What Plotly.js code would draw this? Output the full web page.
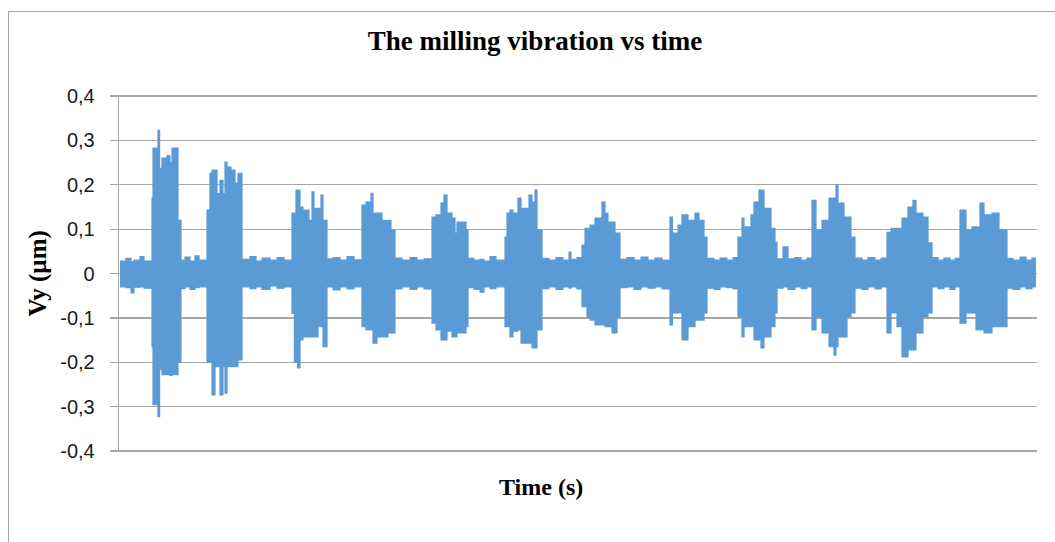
<!DOCTYPE html>
<html>
<head>
<meta charset="utf-8">
<script src="https://cdn.plot.ly/plotly-3.0.1.min.js"></script>
<style>
  html, body { margin: 0; padding: 0; overflow: hidden; background: #fff; }
  #wrap { position: relative; width: 1055px; height: 542px; }
  #chart { position: absolute; left: 0; top: 0; width: 1055px; height: 542px; }
  #frame { position: absolute; left: 8px; top: 11px; width: 2000px; height: 2000px;
           border: 1px solid #a6a6a6; pointer-events: none; }
</style>
</head>
<body>
<div id="wrap">
  <div id="chart"></div>
  <div id="frame"></div>
</div>
<script>
// Time (s) of each envelope knot
const time = [
  0, 0.3, 0.55, 0.7, 1.0, 1.2,
  1.6, 1.65, 1.9, 1.98, 2.1, 2.35, 2.5, 2.6, 2.9,
  3.05, 3.25, 3.5, 3.75, 3.95,
  4.35, 4.5, 4.6, 4.75, 4.85, 5.0, 5.15, 5.25, 5.35, 5.4, 5.55, 5.75, 5.9,
  6.1, 6.5, 6.8, 7.1, 7.5, 7.85, 8.2,
  8.6, 8.72, 8.8, 8.88, 9.0, 9.15, 9.45, 9.6, 9.7, 9.9, 10.05, 10.15,
  10.35, 10.65, 11.0, 11.35, 11.7,
  12.1, 12.3, 12.55, 12.65, 12.85, 13.1, 13.4, 13.55,
  13.75, 14.1, 14.5, 14.85, 15.2,
  15.6, 15.8, 16.05, 16.2, 16.35, 16.6, 16.75, 16.85, 17.3,
  17.4, 17.7, 18.0, 18.2, 18.5, 18.8,
  19.25, 19.35, 19.5, 19.65, 19.9, 20.05, 20.35, 20.45, 20.6, 20.75, 20.85,
  21.1, 21.45, 21.8, 22.15, 22.45, 22.55, 22.85,
  23.1, 23.25, 23.35, 23.5, 23.75, 24.1, 24.25, 24.4, 24.6, 24.75, 24.85,
  25.0, 25.35, 25.7, 26.05, 26.4, 26.75, 27.1,
  27.5, 27.62, 27.9, 28.1, 28.4, 28.75, 28.95, 29.2,
  29.35, 29.7, 30.0, 30.35, 30.65,
  30.9, 31.1, 31.2, 31.55, 31.7, 31.95, 32.05, 32.2, 32.55, 32.75,
  32.85, 33.15, 33.4, 33.75, 34.05, 34.35,
  34.6, 34.8, 35.1, 35.45, 35.7, 35.8, 35.9, 36.2, 36.35, 36.55,
  36.75, 37.1, 37.4, 37.75, 38.05,
  38.35, 38.55, 38.85, 39.1, 39.4, 39.65, 39.8, 40.15, 40.4,
  40.6, 40.9, 41.2, 41.5, 41.75,
  42.0, 42.3, 42.6, 42.8, 43.0, 43.2, 43.6, 43.95,
  44.35, 44.65, 45.0, 45.3, 45.6, 45.8
];
// Upper envelope of Vy (µm)
const vyMax = [
  0.028, 0.034, 0.026, 0.030, 0.038, 0.028,
  0.170, 0.283, 0.323, 0.237, 0.260, 0.266, 0.250, 0.283, 0.120,
  0.030, 0.037, 0.028, 0.040, 0.030,
  0.143, 0.226, 0.233, 0.233, 0.180, 0.210, 0.180, 0.251, 0.200, 0.240, 0.233, 0.204, 0.226,
  0.032, 0.038, 0.028, 0.035, 0.030, 0.036, 0.030,
  0.136, 0.136, 0.188, 0.188, 0.150, 0.143, 0.120, 0.184, 0.147, 0.147, 0.177, 0.120,
  0.033, 0.036, 0.030, 0.038, 0.031,
  0.154, 0.161, 0.181, 0.136, 0.136, 0.120, 0.120, 0.098,
  0.035, 0.030, 0.036, 0.030, 0.033,
  0.127, 0.132, 0.159, 0.177, 0.136, 0.125, 0.091, 0.116, 0.098,
  0.034, 0.030, 0.032, 0.028, 0.038, 0.030,
  0.082, 0.136, 0.143, 0.136, 0.170, 0.147, 0.147, 0.177, 0.161, 0.188, 0.098,
  0.034, 0.030, 0.036, 0.030, 0.048, 0.032, 0.036,
  0.064, 0.102, 0.102, 0.109, 0.125, 0.161, 0.136, 0.116, 0.116, 0.091, 0.091,
  0.032, 0.036, 0.030, 0.037, 0.030, 0.035, 0.030,
  0.127, 0.091, 0.109, 0.132, 0.120, 0.136, 0.120, 0.082,
  0.034, 0.030, 0.035, 0.030, 0.036,
  0.082, 0.125, 0.105, 0.132, 0.161, 0.188, 0.188, 0.147, 0.102, 0.070,
  0.033, 0.060, 0.033, 0.036, 0.030, 0.035,
  0.165, 0.098, 0.120, 0.170, 0.170, 0.200, 0.159, 0.127, 0.127, 0.082,
  0.035, 0.030, 0.036, 0.030, 0.035,
  0.093, 0.102, 0.102, 0.125, 0.150, 0.165, 0.136, 0.127, 0.069,
  0.036, 0.030, 0.035, 0.030, 0.034,
  0.143, 0.098, 0.105, 0.105, 0.159, 0.132, 0.136, 0.098,
  0.034, 0.030, 0.037, 0.030, 0.035, 0.035
];
// Lower envelope of Vy (µm)
const vyMin = [
  -0.030, -0.032, -0.044, -0.031, -0.030, -0.033,
  -0.165, -0.296, -0.323, -0.217, -0.228, -0.228, -0.230, -0.228, -0.200,
  -0.034, -0.030, -0.036, -0.032, -0.030,
  -0.200, -0.200, -0.274, -0.210, -0.210, -0.274, -0.210, -0.270, -0.210, -0.210, -0.210, -0.210, -0.195,
  -0.030, -0.034, -0.030, -0.036, -0.028, -0.033, -0.030,
  -0.090, -0.200, -0.200, -0.213, -0.150, -0.143, -0.143, -0.143, -0.143, -0.120, -0.120, -0.165,
  -0.030, -0.037, -0.030, -0.035, -0.030,
  -0.120, -0.127, -0.127, -0.157, -0.143, -0.143, -0.134, -0.134,
  -0.035, -0.030, -0.036, -0.030, -0.035,
  -0.112, -0.127, -0.150, -0.150, -0.130, -0.143, -0.143, -0.134, -0.120,
  -0.032, -0.036, -0.042, -0.030, -0.034, -0.030,
  -0.120, -0.120, -0.143, -0.130, -0.127, -0.157, -0.157, -0.157, -0.168, -0.168, -0.127,
  -0.034, -0.030, -0.036, -0.030, -0.033, -0.030, -0.035,
  -0.075, -0.075, -0.098, -0.105, -0.116, -0.116, -0.120, -0.120, -0.134, -0.134, -0.098,
  -0.032, -0.030, -0.036, -0.030, -0.033, -0.030, -0.035,
  -0.116, -0.089, -0.089, -0.150, -0.120, -0.105, -0.105, -0.089,
  -0.033, -0.036, -0.030, -0.032, -0.035,
  -0.098, -0.143, -0.120, -0.120, -0.150, -0.150, -0.168, -0.143, -0.120, -0.089,
  -0.033, -0.030, -0.036, -0.030, -0.034, -0.030,
  -0.127, -0.098, -0.134, -0.165, -0.184, -0.165, -0.143, -0.143, -0.098, -0.089,
  -0.033, -0.036, -0.030, -0.035, -0.030,
  -0.134, -0.089, -0.120, -0.188, -0.172, -0.172, -0.134, -0.098, -0.089,
  -0.030, -0.034, -0.030, -0.036, -0.030,
  -0.112, -0.089, -0.089, -0.127, -0.127, -0.134, -0.120, -0.120,
  -0.033, -0.036, -0.030, -0.034, -0.030, -0.030
];
const yTickVals = [-0.4, -0.3, -0.2, -0.1, 0, 0.1, 0.2, 0.3, 0.4];
const yTickText = ['-0,4', '-0,3', '-0,2', '-0,1', '0', '0,1', '0,2', '0,3', '0,4'];

const blue = '#5b9bd5';
const traces = [
  { x: time, y: vyMax, type: 'scatter', mode: 'lines',
    line: { color: blue, width: 1.2, shape: 'hv' }, hoverinfo: 'skip', showlegend: false },
  { x: time, y: vyMin, type: 'scatter', mode: 'lines', fill: 'tonexty', fillcolor: blue,
    line: { color: blue, width: 1.2, shape: 'hv' }, hoverinfo: 'skip', showlegend: false }
];

const serif = '"Liberation Serif", "Times New Roman", serif';
const layout = {
  width: 1055, height: 542,
  margin: { l: 119, r: 18, t: 95, b: 90 },
  paper_bgcolor: '#ffffff', plot_bgcolor: '#ffffff',
  showlegend: false,
  title: { text: '<b>The milling vibration vs time</b>', font: { family: serif, size: 27, color: '#000' },
           xref: 'container', yref: 'container', x: 535 / 1055, xanchor: 'center', y: 1 - 41 / 542, yanchor: 'middle' },
  xaxis: { range: [-0.05, 45.85], showgrid: false, zeroline: false, showline: false,
           showticklabels: false, ticks: '', fixedrange: true },
  yaxis: { range: [-0.4025, 0.4025], tickvals: yTickVals, ticktext: yTickText,
           showgrid: true, gridcolor: '#a6a6a6', gridwidth: 1.3, zeroline: false,
           showline: true, linecolor: '#a6a6a6', linewidth: 1.3,
           ticks: 'outside', ticklen: 8, tickcolor: '#a6a6a6', tickwidth: 1.3,
           ticklabelstandoff: 11,
           tickfont: { family: '"Liberation Sans", Arial, sans-serif', size: 20, color: '#1a1a1a' } },
  annotations: [
    { text: '<b>Vy (µm)</b>', xref: 'paper', yref: 'paper', x: (37 - 119) / 918, y: 0.5,
      xanchor: 'center', yanchor: 'middle', textangle: -90, showarrow: false,
      font: { family: serif, size: 25, color: '#000' } },
    { text: '<b>Time (s)</b>', xref: 'paper', yref: 'paper', x: (541 - 119) / 918, y: (452 - 487) / 357,
      xanchor: 'center', yanchor: 'middle', showarrow: false,
      font: { family: serif, size: 24, color: '#000' } }
  ]
};

Plotly.newPlot('chart', traces, layout, { staticPlot: true, displayModeBar: false });
</script>
</body>
</html>
